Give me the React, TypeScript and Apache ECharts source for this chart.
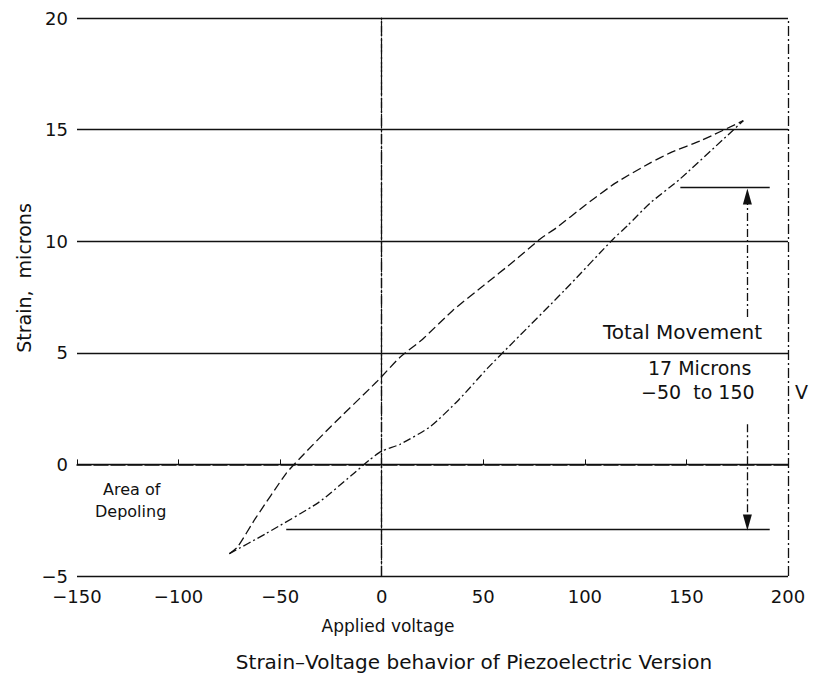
import React, { useEffect, useRef } from "react";
import * as echarts from "echarts";

// Hysteresis loop: rising (upper/left) branch
const voltageUp = [-75, -71, -62, -47, -40, -25, -2.5, 9, 20, 35, 50, 65, 78, 86, 100, 115, 132, 143, 157, 178];
const strainUp = [-4.0, -3.7, -2.4, -0.4, 0.3, 1.7, 3.7, 4.8, 5.6, 6.9, 8.0, 9.1, 10.1, 10.6, 11.6, 12.6, 13.5, 14.0, 14.5, 15.4];
// Returning (lower/right) branch
const voltageDown = [-75, -57, -31, -15, -6, 0, 9, 24, 38, 52, 65, 90, 114, 121, 132, 147, 178];
const strainDown = [-4.0, -3.1, -1.7, -0.5, 0.2, 0.6, 0.9, 1.7, 2.9, 4.3, 5.5, 7.8, 10.1, 10.7, 11.7, 12.8, 15.4];

// Annotation reference values
const upperLevel = 12.4;
const lowerLevel = -2.9;
const arrowVoltage = 180;
const upperBar = [147, 191];
const lowerBar = [-47, 191];
const arrowGapTop = 6.6;
const arrowGapBottom = 1.8;

const xTicks = { min: -150, max: 200, interval: 50 };
const yTicks = { min: -5, max: 20, interval: 5 };

const FONT = "'DejaVu Sans', 'Open Sans', sans-serif";
const INK = "#111111";

export default function App() {
  const ref = useRef<HTMLDivElement>(null);
  useEffect(() => {
    if (!ref.current) return;
    const chart = echarts.init(ref.current, undefined, { renderer: "svg" });
    const minus = (v: number) => String(v).replace("-", "\u2212");
    const textStyle = { fontFamily: FONT, fontSize: 18, color: INK, fontWeight: "normal" as any };
    const txt = (text: string, x: number, y: number, size: number, extra: any = {}) => ({
      type: "text",
      x,
      y,
      ...extra,
      style: { text, font: `${size}px ${FONT}`, fill: INK, ...(extra.style || {}) },
    });
    chart.setOption({
      animation: false,
      backgroundColor: "#ffffff",
      grid: { left: 77, right: 30, top: 18, bottom: 104 },
      xAxis: {
        type: "value",
        min: xTicks.min,
        max: xTicks.max,
        interval: xTicks.interval,
        axisLine: { lineStyle: { color: INK, width: 1.5, type: [14, 3] } },
        axisTick: { inside: true, length: 5, lineStyle: { color: INK } },
        axisLabel: { ...textStyle, margin: 11, formatter: minus },
        splitLine: { show: false },
      },
      yAxis: {
        type: "value",
        min: yTicks.min,
        max: yTicks.max,
        interval: yTicks.interval,
        axisLine: { lineStyle: { color: INK, width: 1.2, type: [10, 2, 2, 2] } },
        axisTick: { inside: true, length: 5, lineStyle: { color: INK } },
        axisLabel: { ...textStyle, margin: 9, formatter: minus },
        splitLine: { show: true, lineStyle: { color: INK, width: 1.4, type: "solid" } },
      },
      series: [
        {
          type: "line",
          data: voltageUp.map((v, i) => [v, strainUp[i]]),
          showSymbol: false,
          smooth: 0.2,
          lineStyle: { color: INK, width: 1.3, type: [9, 4] },
          markLine: {
            silent: true,
            symbol: "none",
            label: { show: false },
            lineStyle: { color: INK, width: 1.3, type: [10, 3, 2, 3] },
            data: [
              [{ coord: [0, yTicks.min] }, { coord: [0, yTicks.max] }],
              [{ coord: [xTicks.max, yTicks.min] }, { coord: [xTicks.max, yTicks.max] }],
            ],
          },
        },
        {
          type: "line",
          data: voltageDown.map((v, i) => [v, strainDown[i]]),
          showSymbol: false,
          smooth: 0.2,
          lineStyle: { color: INK, width: 1.3, type: [8, 3, 2, 3] },
          markLine: {
            silent: true,
            symbol: "none",
            label: { show: false },
            lineStyle: { color: INK, width: 1.4, type: "solid" },
            data: [
              [{ coord: [upperBar[0], upperLevel] }, { coord: [upperBar[1], upperLevel] }],
              [{ coord: [lowerBar[0], lowerLevel] }, { coord: [lowerBar[1], lowerLevel] }],
            ],
          },
        },
        {
          type: "line",
          data: [],
          markLine: {
            silent: true,
            symbol: ["none", "triangle"],
            symbolSize: [9, 16],
            label: { show: false },
            lineStyle: { color: INK, width: 1.3, type: [8, 3, 2, 3] },
            data: [
              [{ coord: [arrowVoltage, arrowGapTop] }, { coord: [arrowVoltage, upperLevel - 0.4] }],
              [{ coord: [arrowVoltage, arrowGapBottom] }, { coord: [arrowVoltage, lowerLevel + 0.3] }],
            ],
          },
        },
      ],
      graphic: [
        txt("Total Movement", 603, 322, 20),
        txt("17 Microns", 648, 358, 19),
        txt("\u221250  to 150", 641, 382, 19),
        txt("V", 795, 382, 19),
        txt("Area of", 103, 481, 16),
        txt("Depoling", 95, 503, 16),
        txt("Applied voltage", 388, 617, 17, { style: { align: "center" } }),
        txt("Strain\u2013Voltage behavior of Piezoelectric Version", 474, 652, 20, { style: { align: "center" } }),
        txt("Strain,  microns", 24, 278, 19, {
          rotation: Math.PI / 2,
          style: { align: "center", verticalAlign: "middle" },
        }),
      ],
    });
    return () => chart.dispose();
  }, []);
  return (
    <div
      ref={ref}
      style={{ position: "absolute", left: 0, top: 0, width: 818, height: 680 }}
    />
  );
}
